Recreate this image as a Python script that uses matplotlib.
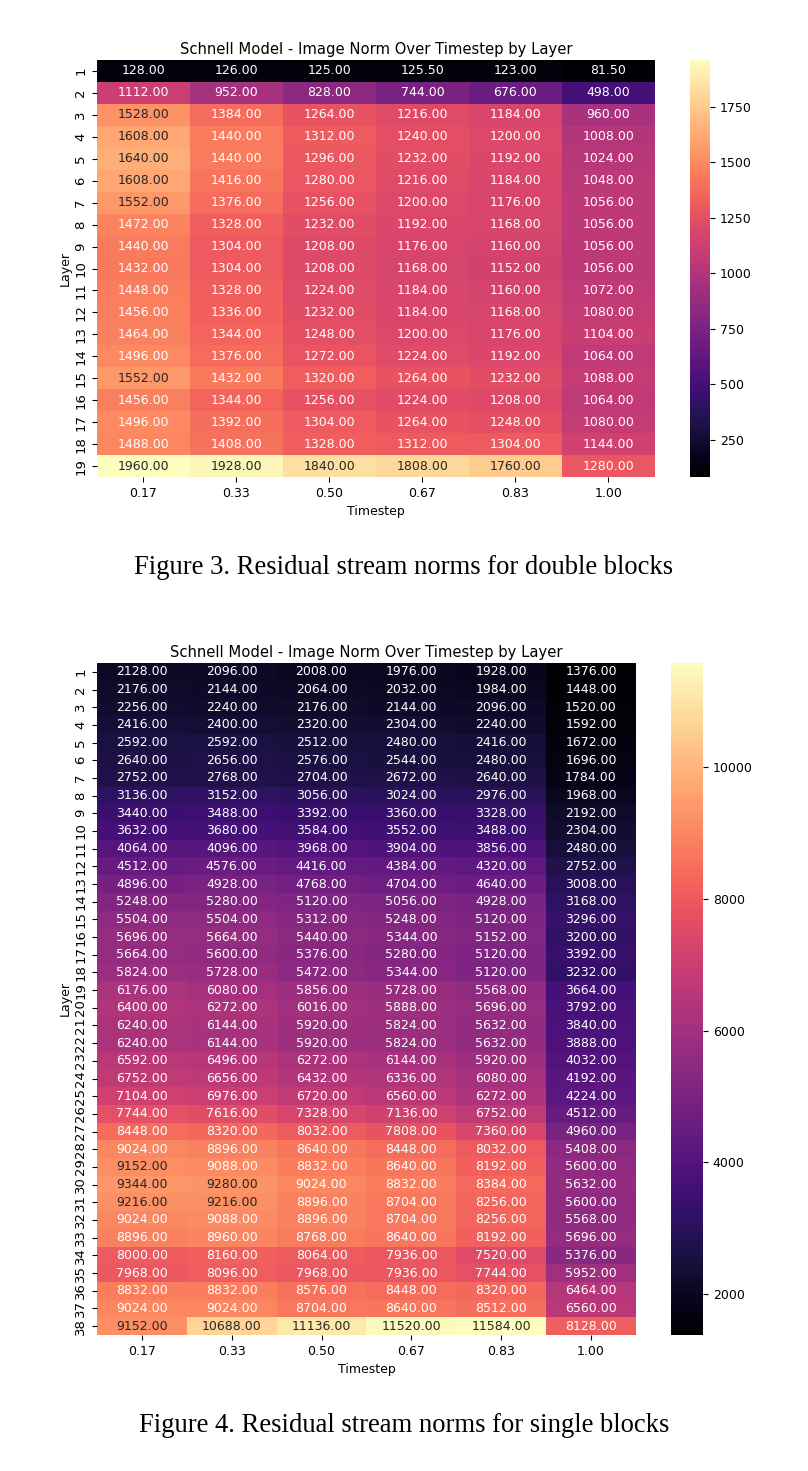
import numpy as np
import matplotlib
matplotlib.use("Agg")
import matplotlib.pyplot as plt
import seaborn as sns

timesteps = ["0.17", "0.33", "0.50", "0.67", "0.83", "1.00"]

# double blocks, layers 1..19
double_norms = [
    [128, 126, 125, 125.5, 123, 81.5],
    [1112, 952, 828, 744, 676, 498],
    [1528, 1384, 1264, 1216, 1184, 960],
    [1608, 1440, 1312, 1240, 1200, 1008],
    [1640, 1440, 1296, 1232, 1192, 1024],
    [1608, 1416, 1280, 1216, 1184, 1048],
    [1552, 1376, 1256, 1200, 1176, 1056],
    [1472, 1328, 1232, 1192, 1168, 1056],
    [1440, 1304, 1208, 1176, 1160, 1056],
    [1432, 1304, 1208, 1168, 1152, 1056],
    [1448, 1328, 1224, 1184, 1160, 1072],
    [1456, 1336, 1232, 1184, 1168, 1080],
    [1464, 1344, 1248, 1200, 1176, 1104],
    [1496, 1376, 1272, 1224, 1192, 1064],
    [1552, 1432, 1320, 1264, 1232, 1088],
    [1456, 1344, 1256, 1224, 1208, 1064],
    [1496, 1392, 1304, 1264, 1248, 1080],
    [1488, 1408, 1328, 1312, 1304, 1144],
    [1960, 1928, 1840, 1808, 1760, 1280],
]

# single blocks, layers 1..38
single_norms = [
    [2128, 2096, 2008, 1976, 1928, 1376],
    [2176, 2144, 2064, 2032, 1984, 1448],
    [2256, 2240, 2176, 2144, 2096, 1520],
    [2416, 2400, 2320, 2304, 2240, 1592],
    [2592, 2592, 2512, 2480, 2416, 1672],
    [2640, 2656, 2576, 2544, 2480, 1696],
    [2752, 2768, 2704, 2672, 2640, 1784],
    [3136, 3152, 3056, 3024, 2976, 1968],
    [3440, 3488, 3392, 3360, 3328, 2192],
    [3632, 3680, 3584, 3552, 3488, 2304],
    [4064, 4096, 3968, 3904, 3856, 2480],
    [4512, 4576, 4416, 4384, 4320, 2752],
    [4896, 4928, 4768, 4704, 4640, 3008],
    [5248, 5280, 5120, 5056, 4928, 3168],
    [5504, 5504, 5312, 5248, 5120, 3296],
    [5696, 5664, 5440, 5344, 5152, 3200],
    [5664, 5600, 5376, 5280, 5120, 3392],
    [5824, 5728, 5472, 5344, 5120, 3232],
    [6176, 6080, 5856, 5728, 5568, 3664],
    [6400, 6272, 6016, 5888, 5696, 3792],
    [6240, 6144, 5920, 5824, 5632, 3840],
    [6240, 6144, 5920, 5824, 5632, 3888],
    [6592, 6496, 6272, 6144, 5920, 4032],
    [6752, 6656, 6432, 6336, 6080, 4192],
    [7104, 6976, 6720, 6560, 6272, 4224],
    [7744, 7616, 7328, 7136, 6752, 4512],
    [8448, 8320, 8032, 7808, 7360, 4960],
    [9024, 8896, 8640, 8448, 8032, 5408],
    [9152, 9088, 8832, 8640, 8192, 5600],
    [9344, 9280, 9024, 8832, 8384, 5632],
    [9216, 9216, 8896, 8704, 8256, 5600],
    [9024, 9088, 8896, 8704, 8256, 5568],
    [8896, 8960, 8768, 8640, 8192, 5696],
    [8000, 8160, 8064, 7936, 7520, 5376],
    [7968, 8096, 7968, 7936, 7744, 5952],
    [8832, 8832, 8576, 8448, 8320, 6464],
    [9024, 9024, 8704, 8640, 8512, 6560],
    [9152, 10688, 11136, 11520, 11584, 8128],
]

title = "Schnell Model - Image Norm Over Timestep by Layer"

fig = plt.figure(figsize=(8.08, 14.71), dpi=100)


def draw(data, ax_rect, cbar_rect, caption, cap_y):
    ax = fig.add_axes(ax_rect)
    cax = fig.add_axes(cbar_rect)
    layers = [str(i + 1) for i in range(len(data))]
    sns.heatmap(np.array(data), ax=ax, cbar_ax=cax, cmap="magma",
                annot=True, fmt=".2f", annot_kws={"fontsize": 9},
                xticklabels=timesteps, yticklabels=layers)
    ax.set_title(title, fontsize=10.6, pad=4)
    ax.set_xlabel("Timestep", fontsize=9)
    ax.set_ylabel("Layer", fontsize=9, labelpad=2)
    ax.tick_params(axis="x", labelsize=9, rotation=0)
    ax.tick_params(axis="y", labelsize=9.5, rotation=90)
    cax.tick_params(labelsize=9)
    fig.text(0.5, cap_y, caption, ha="center", va="center",
             family="Liberation Serif", fontsize=19.2)


draw(double_norms, [0.120, 0.6757, 0.6906, 0.2835], [0.854, 0.6757, 0.0248, 0.2835],
     "Figure 3. Residual stream norms for double blocks", 1 - 568 / 1471)
draw(single_norms, [0.120, 0.0925, 0.667, 0.4568], [0.8304, 0.0925, 0.0396, 0.4568],
     "Figure 4. Residual stream norms for single blocks", 1 - 1425 / 1471)

fig.savefig("out.png", dpi=100)
